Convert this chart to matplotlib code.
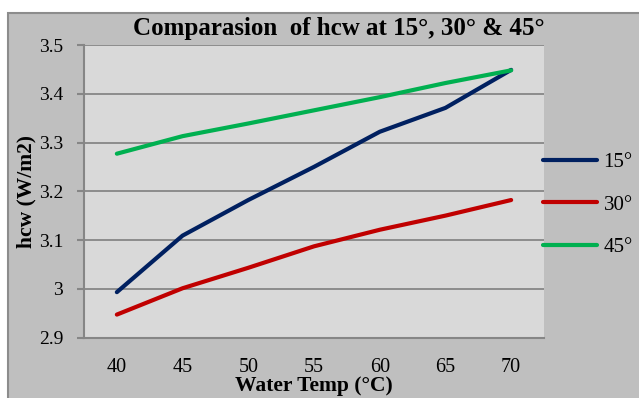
import matplotlib.pyplot as plt
from matplotlib.patches import Rectangle

# water temperature (°C) and hcw (W/m2) for each angle
water_temp = [40, 45, 50, 55, 60, 65, 70]
hcw_15 = [2.993, 3.109, 3.182, 3.250, 3.322, 3.371, 3.449]
hcw_30 = [2.947, 3.001, 3.043, 3.087, 3.121, 3.150, 3.182]
hcw_45 = [3.277, 3.313, 3.339, 3.366, 3.393, 3.422, 3.448]
series_labels = ['15°', '30°', '45°']
y_ticks = [2.9, 3.0, 3.1, 3.2, 3.3, 3.4, 3.5]
y_tick_labels = ['2.9', '3', '3.1', '3.2', '3.3', '3.4', '3.5']

plt.rcParams['font.family'] = ['Liberation Serif', 'DejaVu Serif']

fig = plt.figure(figsize=(6.39, 3.98), dpi=100)
fig.patch.set_facecolor('white')

# outer chart area with its grey frame
frame = Rectangle((7.5 / 639, -0.01), 1.02, 1 - 12.5 / 398 + 0.01,
                  transform=fig.transFigure, facecolor='#bfbfbf',
                  edgecolor='#8c8c8c', linewidth=1.5, zorder=-5)
fig.patches.append(frame)

ax = fig.add_axes([84 / 639, 1 - 337.5 / 398, 460 / 639, (337.5 - 45) / 398])
ax.set_facecolor('#d9d9d9')

x = range(len(water_temp))
colors = ['#002060', '#c00000', '#00b050']
for vals, lab, c in zip([hcw_15, hcw_30, hcw_45], series_labels, colors):
    ax.plot(x, vals, color=c, linewidth=3, label=lab, solid_capstyle='round')

ax.set_xlim(-0.5, len(water_temp) - 0.5)
ax.set_ylim(2.9, 3.5)
ax.set_xticks(list(x))
ax.set_xticklabels([str(t) for t in water_temp], fontsize=14.5)
ax.set_yticks(y_ticks)
ax.set_yticklabels(y_tick_labels, fontsize=14)
ax.tick_params(axis='x', length=0, pad=15)
ax.tick_params(axis='y', length=5, color='#868686', width=1.5, pad=10)
ax.grid(axis='y', color='#868686', linewidth=1.3)
ax.set_axisbelow(True)
for side in ['top', 'right']:
    ax.spines[side].set_visible(False)
for side in ['left', 'bottom']:
    ax.spines[side].set_color('#868686')
    ax.spines[side].set_linewidth(1.5)

ax.set_xlabel('Water Temp (°C)', fontsize=15.5, fontweight='bold', labelpad=-1)
ax.set_ylabel('hcw (W/m2)', fontsize=15.5, fontweight='bold', labelpad=2)
fig.text(339 / 639, 1 - 29 / 398, 'Comparasion  of hcw at 15°, 30° & 45°',
         fontsize=18, fontweight='bold', ha='center', va='center')

ax.legend(loc='upper left', bbox_to_anchor=(0.998, 0.632), frameon=False,
          fontsize=15, handlelength=2.6, handletextpad=0.3, labelspacing=1.1,
          borderpad=0, borderaxespad=0)

fig.savefig('out.png', dpi=100)
